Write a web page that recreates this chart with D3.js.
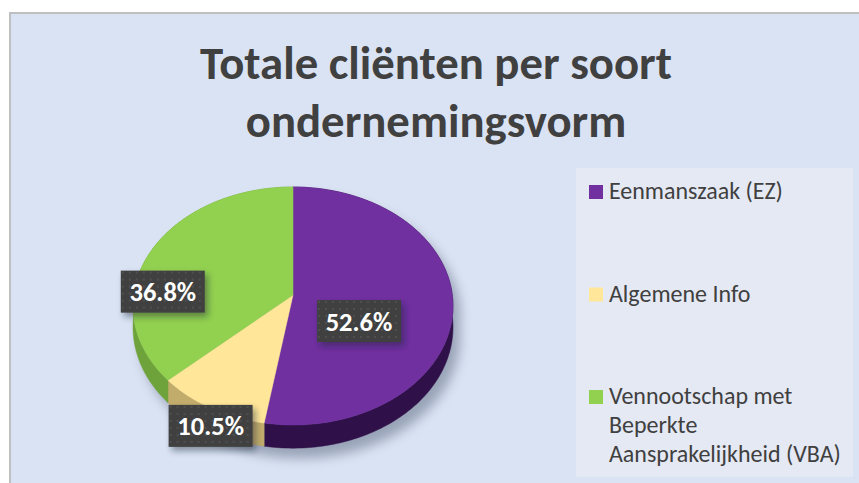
<!DOCTYPE html>
<meta charset="utf-8">
<style>
  html, body { margin: 0; padding: 0; background: #fff; }
  svg { display: block; font-family: Carlito, Lato, "Open Sans", sans-serif; }
</style>
<svg width="859" height="483"></svg>
<script src="https://cdn.jsdelivr.net/npm/d3@7"></script>
<script>

var categories = ["Eenmanszaak (EZ)", "Algemene Info", "Vennootschap met Beperkte Aansprakelijkheid (VBA)"],
    clientCounts = [10, 2, 7],
    titleLines = ["Totale cliënten per soort", "ondernemingsvorm"];

var topColors = ["#7030a0", "#ffe699", "#92d050"],
    sideColors = ["#2f1048", "#c2ac6c", "#6ea23a"];

var svg = d3.select("svg"),
    width = +svg.attr("width"),
    height = +svg.attr("height");

// chart area
svg.append("rect")
    .attr("x", 10).attr("y", 13)
    .attr("width", 900).attr("height", 500)
    .attr("fill", "#dae3f3")
    .attr("stroke", "#bfbfbf")
    .attr("stroke-width", 2);

var defs = svg.append("defs");

defs.append("filter").attr("id", "pieShadow")
    .attr("x", "-20%").attr("y", "-20%").attr("width", "140%").attr("height", "140%")
  .append("feGaussianBlur").attr("stdDeviation", 6);

var lblShadow = defs.append("filter").attr("id", "lblShadow")
    .attr("x", "-30%").attr("y", "-30%").attr("width", "160%").attr("height", "160%");
lblShadow.append("feDropShadow")
    .attr("dx", 3).attr("dy", 4).attr("stdDeviation", 3)
    .attr("flood-color", "#1a2030").attr("flood-opacity", 0.45);

var dots = defs.append("pattern").attr("id", "dots")
    .attr("width", 7).attr("height", 7).attr("patternUnits", "userSpaceOnUse");
dots.append("rect").attr("width", 7).attr("height", 7).attr("fill", "#404040");
dots.append("circle").attr("cx", 2).attr("cy", 2).attr("r", 0.9).attr("fill", "#575757");

// title
var title = svg.append("g")
    .attr("fill", "#404040")
    .attr("font-weight", 700)
    .attr("text-anchor", "middle");

title.selectAll("text")
  .data(titleLines)
  .join("text")
    .attr("x", 436)
    .attr("y", function(d, i) { return 79 + i * 58; })
    .attr("font-size", 40)
    .text(function(d) { return d; });

// fit title width to ~472px for the first line
var t0 = title.select("text").node().getComputedTextLength();
title.selectAll("text").attr("font-size", 40 * 472 / t0);

// 3d pie (perspective projection of a unit disc)
var P = { cx: 293, cy: 295, rx: 159.3, ry: 118, k: -0.0924, depth: 21 };

function project(r, a, dz) {
  var u = r * Math.sin(a), v = -r * Math.cos(a),
      s = 1 / (1 + P.k * v);
  return [P.cx + P.rx * u * s, P.cy + P.ry * v * s + (dz || 0) * s];
}

function arcPoints(a0, a1, dz) {
  var n = Math.max(2, Math.ceil((a1 - a0) / (Math.PI / 180))), pts = [];
  for (var i = 0; i <= n; i++) pts.push(project(1, a0 + (a1 - a0) * i / n, dz));
  return pts;
}

function topPath(d) {
  return "M" + [project(0, 0)].concat(arcPoints(d.startAngle, d.endAngle)).join("L") + "Z";
}

function sidePath(d) {
  var up = arcPoints(d.startAngle, d.endAngle),
      down = arcPoints(d.startAngle, d.endAngle, P.depth).reverse();
  return "M" + up.concat(down).join("L") + "Z";
}

var arcs = d3.pie().sort(null)(clientCounts);
var total = d3.sum(clientCounts);
var pct = d3.format(".1%");

var shadow = svg.append("g")
    .attr("filter", "url(#pieShadow)")
    .attr("transform", "translate(7,10)")
    .attr("fill", "#6d7890")
    .attr("opacity", 0.6);
shadow.selectAll("path.s").data(arcs).join("path").attr("class", "s").attr("d", sidePath);
shadow.selectAll("path.t").data(arcs).join("path").attr("class", "t").attr("d", topPath);

var pieG = svg.append("g");

pieG.selectAll("path.side")
  .data(arcs)
  .join("path")
    .attr("class", "side")
    .attr("d", sidePath)
    .attr("fill", function(d, i) { return sideColors[i]; })
    .attr("stroke", function(d, i) { return sideColors[i]; })
    .attr("stroke-width", 0.5);

pieG.selectAll("path.top")
  .data(arcs)
  .join("path")
    .attr("class", "top")
    .attr("d", topPath)
    .attr("fill", function(d, i) { return topColors[i]; })
    .attr("stroke", function(d, i) { return topColors[i]; })
    .attr("stroke-width", 0.5);

// data labels (best-fit placement, in disc coordinates: radius fraction, angle)
var labelPlacement = [[0.46, 118], [1.11, 205], [0.82, 272]];

var labels = svg.append("g").selectAll("g")
  .data(arcs)
  .join("g")
    .attr("transform", function(d, i) {
      var p = project(labelPlacement[i][0], labelPlacement[i][1] * Math.PI / 180);
      return "translate(" + p[0] + "," + p[1] + ")";
    });

labels.append("rect")
    .attr("x", -42).attr("y", -21)
    .attr("width", 84).attr("height", 42)
    .attr("fill", "url(#dots)")
    .attr("filter", "url(#lblShadow)");

labels.append("text")
    .attr("text-anchor", "middle")
    .attr("dy", "0.36em")
    .attr("fill", "#fff")
    .attr("font-weight", 700)
    .attr("font-size", 26.5)
    .text(function(d) { return pct(d.value / total); });

// legend
svg.append("rect")
    .attr("x", 576).attr("y", 168)
    .attr("width", 277).attr("height", 309)
    .attr("fill", "#e5e9f3");

var legendY = d3.scaleLinear().domain([0, 2]).range([199, 404]);

var legend = svg.append("g").selectAll("g")
  .data(categories)
  .join("g")
    .attr("transform", function(d, i) { return "translate(589," + legendY(i) + ")"; });

legend.append("rect")
    .attr("y", -14)
    .attr("width", 14).attr("height", 14)
    .attr("fill", function(d, i) { return topColors[i]; });

var legendText = legend.append("text")
    .attr("x", 20)
    .attr("fill", "#404040")
    .attr("font-size", 21);

// fit legend font so the first entry is ~174px wide
var l0 = legendText.node().appendChild(document.createElementNS("http://www.w3.org/2000/svg", "tspan"));
l0.textContent = categories[0];
var lsize = 21 * 174 / l0.getComputedTextLength();
l0.remove();
legendText.attr("font-size", lsize);

legendText.each(function(d) {
  var text = d3.select(this), words = d.split(" "), line = [],
      tspan = text.append("tspan").attr("x", 20).attr("dy", 0);
  words.forEach(function(w) {
    line.push(w);
    tspan.text(line.join(" "));
    if (tspan.node().getComputedTextLength() > 246 && line.length > 1) {
      line.pop();
      tspan.text(line.join(" "));
      line = [w];
      tspan = text.append("tspan").attr("x", 20).attr("dy", 29).text(w);
    }
  });
});

</script>
